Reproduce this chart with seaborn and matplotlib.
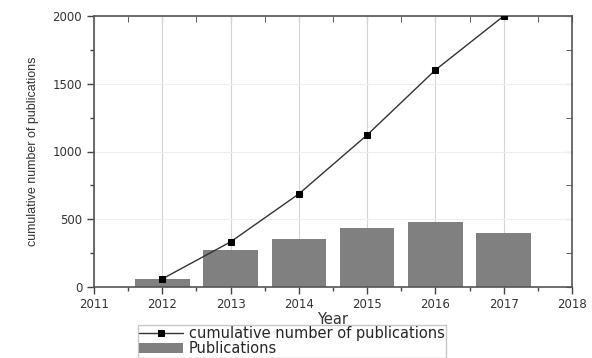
import numpy as np
import pandas as pd
import matplotlib
matplotlib.use("Agg")
import matplotlib.pyplot as plt
from matplotlib.ticker import MultipleLocator
import seaborn as sns

# values
years = [2012, 2013, 2014, 2015, 2016, 2017]
publications = [60, 273, 354, 435, 480, 398]
cumulative = [60, 333, 687, 1122, 1602, 2000]

sns.set_style("white")
plt.rcParams["font.family"] = ["DejaVu Sans"]

df = pd.DataFrame({"Year": years, "Publications": publications, "Cumulative": cumulative})

fig = plt.figure(figsize=(5.92, 3.58), dpi=100)
ax = fig.add_axes([94 / 592, 1 - 287 / 358, (572 - 94) / 592, (287 - 16) / 358])

sns.barplot(data=df, x="Year", y="Publications", native_scale=True, width=0.8,
            color="#808080", saturation=1, errorbar=None, label="Publications",
            linewidth=0, legend=False, ax=ax, zorder=2)
sns.lineplot(data=df, x="Year", y="Cumulative", color="#333333", linewidth=1.0,
             marker="s", markersize=5, markerfacecolor="black", markeredgecolor="black",
             label="cumulative number of publications", legend=False, ax=ax, zorder=3)
if ax.get_legend() is not None:
    ax.get_legend().remove()

ax.set_xlim(2011, 2018)
ax.set_ylim(0, 2000)
ax.xaxis.set_major_locator(MultipleLocator(1))
ax.xaxis.set_minor_locator(MultipleLocator(0.5))
ax.yaxis.set_major_locator(MultipleLocator(500))
ax.yaxis.set_minor_locator(MultipleLocator(250))
ax.set_xticks(range(2011, 2019))
ax.set_xticklabels([str(y) for y in range(2011, 2019)])

ax.grid(axis="x", which="major", color="#d4d4d4", linewidth=0.8, zorder=0)
ax.grid(axis="y", which="major", color="#efefef", linewidth=0.8, zorder=0)
ax.set_axisbelow(True)

for s in ax.spines.values():
    s.set_color("#555555")
    s.set_linewidth(1.2)

ax.tick_params(which="both", direction="out", bottom=True, left=True,
               colors="#444444", labelcolor="#333333", labelsize=8.5)
ax.tick_params(which="major", length=5, width=1)
ax.tick_params(which="minor", length=3, width=1)
ax.tick_params(axis="x", pad=3)

top = ax.secondary_xaxis("top")
top.xaxis.set_major_locator(MultipleLocator(1))
top.xaxis.set_minor_locator(MultipleLocator(0.5))
top.tick_params(which="both", direction="in", top=True, labeltop=False, colors="#444444", length=4)
right = ax.secondary_yaxis("right")
right.yaxis.set_major_locator(MultipleLocator(500))
right.yaxis.set_minor_locator(MultipleLocator(250))
right.tick_params(which="both", direction="in", right=True, labelright=False, colors="#444444", length=4)
for sec in (top, right):
    for s in sec.spines.values():
        s.set_visible(False)

ax.set_xlabel("Year", fontsize=10.5, color="#333333", labelpad=1)
ax.set_ylabel("cumulative number of publications", fontsize=9, color="#333333",
              family=["Liberation Sans", "DejaVu Sans"], labelpad=10)

handles, labels = ax.get_legend_handles_labels()
order = [labels.index("cumulative number of publications"), labels.index("Publications")]
fig.legend([handles[i] for i in order], [labels[i] for i in order],
           loc="upper left", bbox_to_anchor=(138 / 592, 1 - 325 / 358),
           fontsize=10.5, frameon=True, fancybox=False, edgecolor="#bbbbbb",
           borderpad=0.1, labelspacing=0.0, handlelength=3.0, handletextpad=0.4,
           borderaxespad=0, numpoints=1)

fig.savefig("out.png", dpi=100)
